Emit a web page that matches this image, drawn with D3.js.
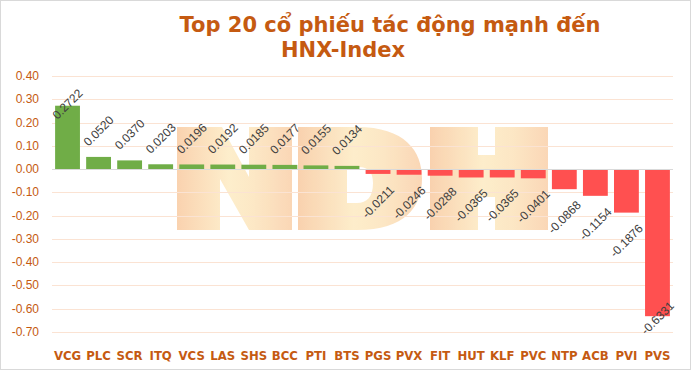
<!DOCTYPE html>
<html>
<head>
<meta charset="utf-8">
<script src="https://cdn.jsdelivr.net/npm/d3@7"></script>
<style>
  body { margin: 0; background: #fff; }
  svg { display: block; }
</style>
</head>
<body>
<div id="chart"></div>
<script>
// Top 20 stocks impacting HNX-Index - diverging bar chart

const categories = ["VCG", "PLC", "SCR", "ITQ", "VCS", "LAS", "SHS", "BCC", "PTI", "BTS",
  "PGS", "PVX", "FIT", "HUT", "KLF", "PVC", "NTP", "ACB", "PVI", "PVS"];
const impacts = [0.2722, 0.0520, 0.0370, 0.0203, 0.0196, 0.0192, 0.0185, 0.0177, 0.0155, 0.0134,
  -0.0211, -0.0246, -0.0288, -0.0365, -0.0365, -0.0401, -0.0868, -0.1154, -0.1876, -0.6331];
const yTicks = [0.4, 0.3, 0.2, 0.1, 0.0, -0.1, -0.2, -0.3, -0.4, -0.5, -0.6, -0.7];
const titleLines = ["Top 20 cổ phiếu tác động mạnh đến", "HNX-Index"];

const width = 691, height = 371;
const accent = "#C55A11";

// plain hyphen minus like Excel
const locale = d3.formatLocale({ decimal: ".", thousands: ",", grouping: [3], currency: ["", ""], minus: "-" });
const fmt2 = locale.format(".2f");
const fmt4 = locale.format(".4f");

const svg = d3.select("#chart")
  .append("svg")
  .attr("width", width)
  .attr("height", height);

// chart border
svg.append("rect")
  .attr("x", 0.5).attr("y", 0.5)
  .attr("width", width - 1).attr("height", 369)
  .attr("fill", "#fff")
  .attr("stroke", "#D9D9D9");

// title (two lines, each placed like the original)
svg.append("text")
  .attr("x", 390).attr("y", 32)
  .attr("text-anchor", "middle")
  .attr("font-family", "DejaVu Sans, Verdana, sans-serif")
  .attr("font-weight", "bold")
  .attr("font-size", "21px")
  .attr("fill", accent)
  .text(titleLines[0]);
svg.append("text")
  .attr("x", 343).attr("y", 57)
  .attr("text-anchor", "middle")
  .attr("font-family", "DejaVu Sans, Verdana, sans-serif")
  .attr("font-weight", "bold")
  .attr("font-size", "21px")
  .attr("fill", accent)
  .text(titleLines[1]);

// scales
const x = d3.scaleBand()
  .domain(categories)
  .range([52, 673])
  .paddingInner(0.2)
  .paddingOuter(0.1);

const y = d3.scaleLinear()
  .domain([-0.7, 0.4])
  .range([331.75, 76]);

// watermark "NDH" behind the plot
const defs = svg.append("defs");
const grad = defs.append("linearGradient")
  .attr("id", "wm")
  .attr("x1", "0").attr("y1", "0").attr("x2", "1").attr("y2", "0");
grad.append("stop").attr("offset", "0").attr("stop-color", "#F9CDA6");
grad.append("stop").attr("offset", "0.45").attr("stop-color", "#FDECC6");
grad.append("stop").attr("offset", "0.7").attr("stop-color", "#FCE4BE");
grad.append("stop").attr("offset", "1").attr("stop-color", "#FAD2AE");

const wm = svg.append("g")
  .attr("transform", "translate(177,127)")
  .attr("fill", "url(#wm)")
  .attr("fill-rule", "evenodd")
  .attr("opacity", 0.9);
// N
wm.append("path")
  .attr("d", "M0,0 L45,0 L72,50 L72,0 L115,0 L115,103 L72,103 L43,52 L43,103 L0,103 Z");
// D
wm.append("path")
  .attr("d", "M121,0 L180,0 C228,0 245,24 245,51.5 C245,80 228,103 180,103 L121,103 Z " +
    "M170,40 L182,40 C191,40 196,45 196,56 C196,70 190,76 180,76 L170,76 Z");
// H
wm.append("path")
  .attr("d", "M253,0 L301,0 L301,28 L318,28 L318,0 L371,0 L371,103 L318,103 L318,70 " +
    "L301,70 L301,103 L253,103 Z");

// gridlines
svg.append("g")
  .selectAll("line")
  .data(yTicks.filter(d => d !== 0))
  .enter().append("line")
  .attr("x1", 52).attr("x2", 673)
  .attr("y1", d => Math.round(y(d)) + 0.5)
  .attr("y2", d => Math.round(y(d)) + 0.5)
  .attr("stroke", "#FBE3D3")
  .attr("stroke-width", 1);

// y axis labels
svg.append("g")
  .selectAll("text")
  .data(yTicks)
  .enter().append("text")
  .attr("x", 39)
  .attr("y", d => y(d))
  .attr("dy", "0.35em")
  .attr("text-anchor", "end")
  .attr("font-family", "Liberation Sans, Arial, sans-serif")
  .attr("font-size", "12px")
  .attr("fill", accent)
  .text(d => fmt2(d));

// bars
svg.append("g")
  .selectAll("rect")
  .data(impacts)
  .enter().append("rect")
  .attr("x", (d, i) => x(categories[i]))
  .attr("width", x.bandwidth())
  .attr("y", d => y(Math.max(0, d)))
  .attr("height", d => Math.abs(y(d) - y(0)))
  .attr("fill", d => d >= 0 ? "#70AD47" : "#FF5050");

// zero line
svg.append("line")
  .attr("x1", 52).attr("x2", 673)
  .attr("y1", Math.round(y(0)) + 0.5).attr("y2", Math.round(y(0)) + 0.5)
  .attr("stroke", "#D9D9D9");

// data labels, rotated -45deg, kept inside the plot
svg.append("g")
  .selectAll("text")
  .data(impacts)
  .enter().append("text")
  .attr("transform", (d, i) => {
    const cx = x(categories[i]) + x.bandwidth() / 2;
    let cy = d >= 0 ? y(d) - 26 : y(d) + 28;
    cy = Math.max(104, Math.min(318, cy));
    return `translate(${cx},${cy}) rotate(-45)`;
  })
  .attr("text-anchor", "middle")
  .attr("dy", "0.35em")
  .attr("font-family", "Liberation Sans, Arial, sans-serif")
  .attr("font-size", "12px")
  .attr("fill", "#404040")
  .text(d => fmt4(d));

// category labels
svg.append("g")
  .selectAll("text")
  .data(categories)
  .enter().append("text")
  .attr("x", d => x(d) + x.bandwidth() / 2)
  .attr("y", 355)
  .attr("dy", "0.35em")
  .attr("text-anchor", "middle")
  .attr("font-family", "Liberation Sans Narrow, DejaVu Sans Condensed, sans-serif")
  .attr("font-weight", "bold")
  .attr("font-size", "13px")
  .attr("fill", accent)
  .text(d => d);
</script>
</body>
</html>
